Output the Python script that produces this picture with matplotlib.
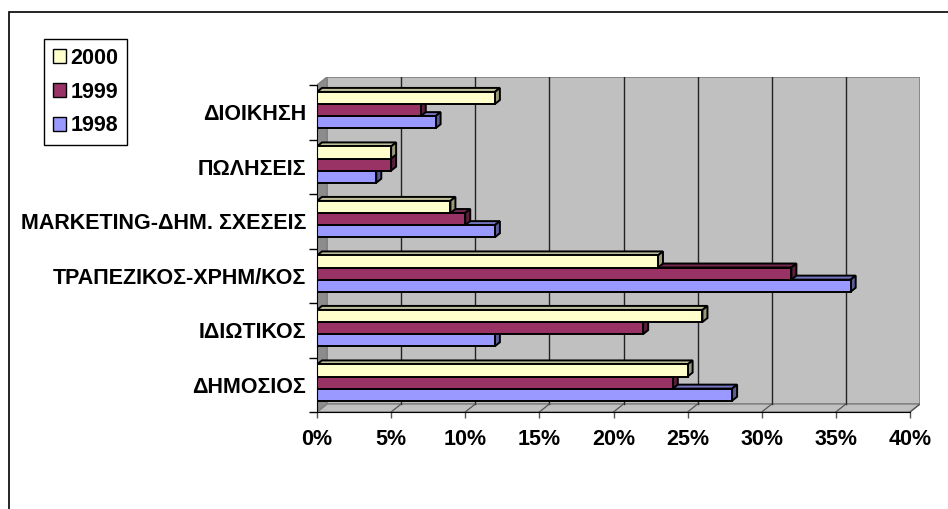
import matplotlib
matplotlib.use("Agg")
import matplotlib.pyplot as plt
from matplotlib.patches import Polygon, Rectangle, Patch
from matplotlib.colors import to_rgb

plt.rcParams['font.family'] = ['Liberation Sans', 'DejaVu Sans']
plt.rcParams['font.weight'] = 'bold'

# ---- data ----
categories = ["ΔΗΜΟΣΙΟΣ", "ΙΔΙΩΤΙΚΟΣ", "ΤΡΑΠΕΖΙΚΟΣ-ΧΡΗΜ/ΚΟΣ",
              "MARKETING-ΔΗΜ. ΣΧΕΣΕΙΣ", "ΠΩΛΗΣΕΙΣ", "ΔΙΟΙΚΗΣΗ"]
series_names = ["1998", "1999", "2000"]
v1998 = [28, 12, 36, 12, 4, 8]
v1999 = [24, 22, 32, 10, 5, 7]
v2000 = [25, 26, 23, 9, 5, 12]
series_values = [v1998, v1999, v2000]
series_colors = ["#9999FF", "#993366", "#FFFFCC"]
x_ticks = [0, 5, 10, 15, 20, 25, 30, 35, 40]
x_ticklabels = [f"{t}%" for t in x_ticks]

W, H = 948, 509
fig = plt.figure(figsize=(W / 100, H / 100), dpi=100)
FS = 15.5

# axes geometry in pixels
left_px, right_px, top_px, bot_px = 317, 920, 77, 412
ax = fig.add_axes([left_px / W, (H - bot_px) / H,
                   (right_px - left_px) / W, (bot_px - top_px) / H])

xmax = 40
px_per_x = (910 - left_px) / xmax
ncat = len(categories)
px_per_y = (bot_px - 85) / ncat
DX = 10 / px_per_x      # wall depth in data units
DY = 8 / px_per_y
ax.set_xlim(0, xmax + DX)
ax.set_ylim(0, ncat + DY)

wall = "#C0C0C0"
# back wall
ax.add_patch(Rectangle((DX, DY), xmax, ncat, facecolor=wall,
                       edgecolor="#808080", lw=1.2, zorder=0))
# floor
ax.add_patch(Polygon([(0, 0), (xmax, 0), (xmax + DX, DY), (DX, DY)],
                     closed=True, facecolor=wall, edgecolor="#808080",
                     lw=1.0, zorder=0.5))
# left wall
ax.add_patch(Polygon([(0, 0), (DX, DY), (DX, ncat + DY), (0, ncat)],
                     closed=True, facecolor="#8C8C8C", edgecolor="#808080",
                     lw=1.0, zorder=0.6))
# grid lines
for t in x_ticks[1:-1]:
    ax.plot([t + DX, t + DX], [DY, ncat + DY], color="#222222", lw=1.0, zorder=0.7)
for t in x_ticks[1:]:
    ax.plot([t, t + DX], [0, DY], color="#555555", lw=0.9, zorder=0.7)


def shade(c, f):
    r, g, b = to_rgb(c)
    return (r * f, g * f, b * f)


bh = 0.222
center_off = 0.54
bdx = 5 / px_per_x
bdy = 4 / px_per_y
elw = 1.4
for k, (vals, col) in enumerate(zip(series_values, series_colors)):
    for i, v in enumerate(vals):
        yc = i + center_off + (k - 1) * bh
        y0, y1 = yc - bh / 2, yc + bh / 2
        z = 2 + k
        ax.add_patch(Polygon([(0, y1), (v, y1), (v + bdx, y1 + bdy), (bdx, y1 + bdy)],
                             closed=True, facecolor=shade(col, 0.75),
                             edgecolor="black", lw=elw, zorder=z))
        ax.add_patch(Polygon([(v, y0), (v + bdx, y0 + bdy), (v + bdx, y1 + bdy), (v, y1)],
                             closed=True, facecolor=shade(col, 0.6),
                             edgecolor="black", lw=elw, zorder=z))
    ax.barh([i + center_off + (k - 1) * bh for i in range(ncat)], vals,
            height=bh, left=0, color=col, edgecolor="black", lw=elw,
            zorder=2 + k + 0.5)

# axes styling
for s in ["top", "right"]:
    ax.spines[s].set_visible(False)
ax.spines["bottom"].set_bounds(0, xmax)
ax.spines["left"].set_bounds(0, ncat)
ax.spines["bottom"].set_color("black")
ax.spines["left"].set_color("black")
ax.spines["bottom"].set_zorder(10)
ax.spines["left"].set_zorder(10)
ax.set_facecolor("none")
ax.set_xticks(x_ticks)
ax.set_xticklabels(x_ticklabels, fontsize=FS, fontweight="bold")
ax.tick_params(axis="x", direction="out", length=4.5, width=1, color="#555555", pad=8)
ax.set_yticks(range(ncat + 1))
ax.set_yticklabels([])
ax.tick_params(axis="y", which="major", direction="out", length=5.8, width=1, color="black")
ax.set_yticks([i + 0.5 for i in range(ncat)], minor=True)
ax.set_yticklabels(categories, minor=True, fontsize=FS, fontweight="bold")
ax.tick_params(axis="y", which="minor", length=0, pad=8)

# legend
handles = [Patch(facecolor=series_colors[2], edgecolor="black", lw=1.0, label=series_names[2]),
           Patch(facecolor=series_colors[1], edgecolor="black", lw=1.0, label=series_names[1]),
           Patch(facecolor=series_colors[0], edgecolor="black", lw=1.0, label=series_names[0])]
leg = fig.legend(handles=handles, loc="upper left",
                 bbox_to_anchor=(44 / W, 1 - 39 / H), borderaxespad=0,
                 frameon=True, fancybox=False, framealpha=1, edgecolor="black",
                 prop={"size": FS, "weight": "bold"}, handlelength=0.62,
                 handleheight=0.62, handletextpad=0.22, labelspacing=0.6,
                 borderpad=0.4)
leg.get_frame().set_linewidth(1.0)

# outer chart border (extends past figure on right and bottom)
fig.add_artist(Rectangle((9 / W, -0.05), 1.1, (1 - 12 / H) + 0.05,
                         transform=fig.transFigure, facecolor="none",
                         edgecolor="black", lw=1.2, clip_on=False))

fig.savefig("out.png", dpi=100)
